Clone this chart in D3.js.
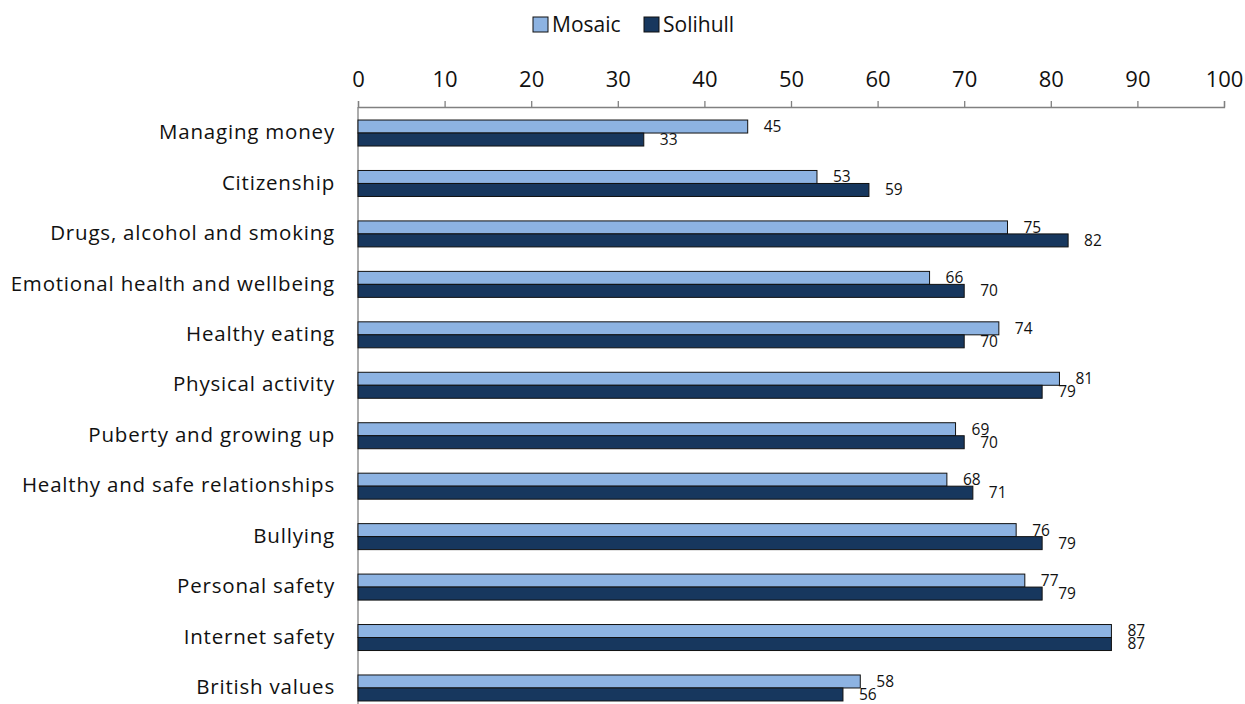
<!DOCTYPE html>
<html>
<head>
<meta charset="utf-8">
<script src="https://cdn.jsdelivr.net/npm/d3@7/dist/d3.min.js"></script>
<style>
  html, body { margin: 0; padding: 0; background: #fff; }
  svg { display: block; }
</style>
</head>
<body>
<svg id="chart" width="1245" height="704"></svg>
<script>
// Topics covered, percentage of pupils in each group
const categories = [
  "Managing money",
  "Citizenship",
  "Drugs, alcohol and smoking",
  "Emotional health and wellbeing",
  "Healthy eating",
  "Physical activity",
  "Puberty and growing up",
  "Healthy and safe relationships",
  "Bullying",
  "Personal safety",
  "Internet safety",
  "British values"
];
const mosaic   = [45, 53, 75, 66, 74, 81, 69, 68, 76, 77, 87, 58];
const solihull = [33, 59, 82, 70, 70, 79, 70, 71, 79, 79, 87, 56];
const seriesNames = ["Mosaic", "Solihull"];
const seriesColors = ["#8DB3E2", "#17375E"];
const tickValues = [0, 10, 20, 30, 40, 50, 60, 70, 80, 90, 100];

const FONT = "'Open Sans', Lato, sans-serif";
const svg = d3.select("#chart");

const x = d3.scaleLinear().domain([0, 100]).range([358, 1224]);
const y = d3.scaleBand().domain(categories).range([107.8, 713.2]).paddingInner(0).paddingOuter(0);
const barH = 13;

// Top value axis
const xAxis = d3.axisTop(x).tickValues(tickValues).tickSize(6).tickPadding(14).tickFormat(d3.format("d"));
const gx = svg.append("g").attr("transform", "translate(0,107)").call(xAxis);
gx.select(".domain").attr("stroke", "#808080").attr("stroke-width", 1.3);
gx.selectAll(".tick line").attr("stroke", "#808080").attr("stroke-width", 1.3);
gx.selectAll(".tick text").attr("font-family", FONT).attr("font-size", 22).attr("fill", "#111");

// Category axis line
svg.append("line")
  .attr("x1", x(0)).attr("x2", x(0))
  .attr("y1", 107).attr("y2", 704)
  .attr("stroke", "#808080").attr("stroke-width", 1.3);

// Category labels
svg.append("g").selectAll("text")
  .data(categories)
  .join("text")
  .attr("x", 335)
  .attr("y", d => y(d) + y.bandwidth() / 2)
  .attr("dy", "0.3em")
  .attr("text-anchor", "end")
  .attr("font-family", FONT)
  .attr("font-size", 20.5)
  .attr("letter-spacing", "0.8px")
  .attr("fill", "#111")
  .text(d => d);

// Bars and value labels
[mosaic, solihull].forEach((vals, si) => {
  const g = svg.append("g");
  const rows = categories.map((c, i) => ({ c, v: vals[i] }));
  g.selectAll("rect")
    .data(rows)
    .join("rect")
    .attr("x", x(0))
    .attr("y", d => y(d.c) + y.bandwidth() / 2 - barH + si * barH)
    .attr("width", d => x(d.v) - x(0))
    .attr("height", barH)
    .attr("fill", seriesColors[si])
    .attr("stroke", "#111")
    .attr("stroke-width", 1);
  g.selectAll("text")
    .data(rows)
    .join("text")
    .attr("x", d => x(d.v) + 16)
    .attr("y", d => y(d.c) + y.bandwidth() / 2 - barH / 2 + si * barH)
    .attr("dy", "0.35em")
    .attr("font-family", FONT)
    .attr("font-size", 15.5)
    .attr("fill", "#111")
    .text(d => d.v);
});

// Legend
const legendX = [533, 644];
const legend = svg.append("g");
seriesNames.forEach((name, i) => {
  legend.append("rect")
    .attr("x", legendX[i]).attr("y", 17)
    .attr("width", 15).attr("height", 15)
    .attr("fill", seriesColors[i])
    .attr("stroke", "#111").attr("stroke-width", 1);
  legend.append("text")
    .attr("x", legendX[i] + 19).attr("y", 24.5)
    .attr("dy", "0.35em")
    .attr("font-family", FONT)
    .attr("font-size", 21)
    .attr("fill", "#111")
    .text(name);
});
</script>
</body>
</html>
